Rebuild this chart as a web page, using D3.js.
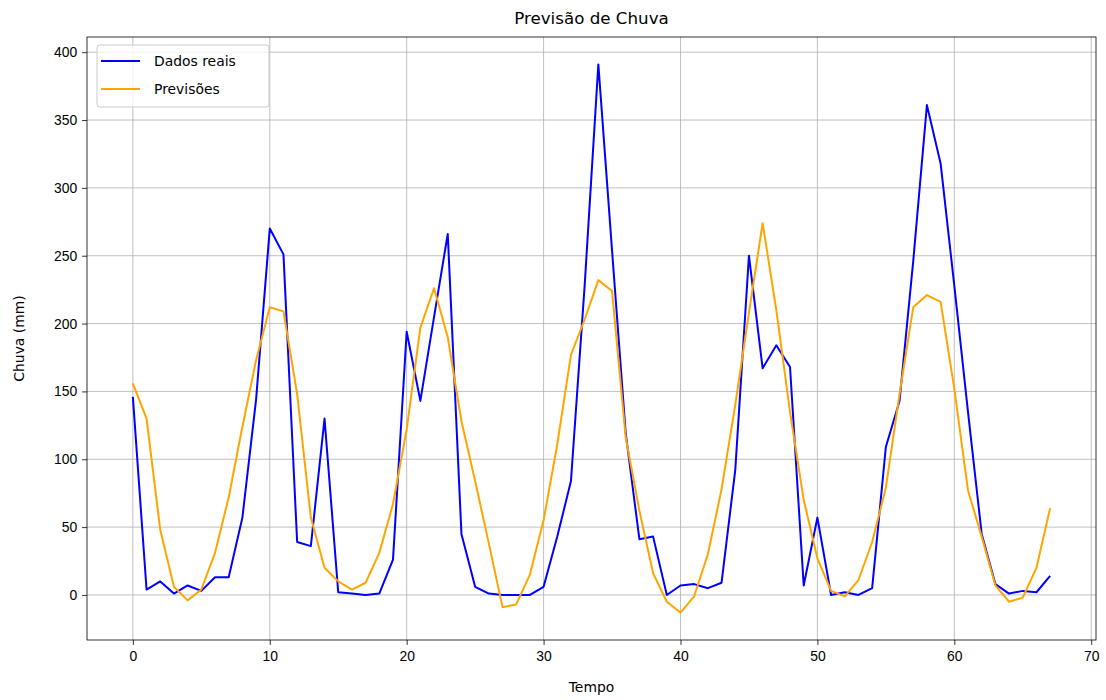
<!DOCTYPE html>
<html lang="pt">
<head>
<meta charset="UTF-8">
<title>Previsão de Chuva</title>
<script src="https://cdn.jsdelivr.net/npm/d3@7/dist/d3.min.js"></script>
<style>
  body { margin: 0; background: #fff; }
  svg { font-family: "DejaVu Sans", sans-serif; }
  .grid line { stroke: #b0b0b0; stroke-width: 0.8; }
  .axis text { font-size: 13.9px; fill: #000; }
  .axis path, .axis line { stroke: #000; stroke-width: 0.8; }
</style>
</head>
<body>
<svg width="1106" height="700"></svg>
<script>
  // valores (mm)
  const dadosReais = [146, 4, 10, 1, 7, 3, 13, 13, 57, 144,
    270, 251, 39, 36, 130, 2, 1, 0, 1, 26,
    194, 143, 205, 266, 45, 6, 1, 0, 0, 0,
    6, 43, 84, 228, 391, 254, 119, 41, 43, 0,
    7, 8, 5, 9, 92, 250, 167, 184, 168, 7,
    57, 0, 2, 0, 5, 109, 143, 246, 361, 318,
    228, 135, 45, 8, 1, 3, 2, 14];
  const previsoes = [156, 130, 48, 6, -4, 4, 31, 72, 124, 173,
    212, 209, 148, 57, 20, 10, 4, 9, 31, 67,
    122, 197, 226, 190, 128, 84, 38, -9, -7, 15,
    55, 111, 177, 203, 232, 224, 116, 62, 16, -5,
    -13, -1, 30, 78, 140, 208, 274, 210, 135, 70,
    27, 3, -1, 11, 39, 79, 148, 212, 221, 216,
    152, 77, 43, 7, -5, -2, 20, 64];
  const xTicks = [0, 10, 20, 30, 40, 50, 60, 70];
  const yTicks = [0, 50, 100, 150, 200, 250, 300, 350, 400];
  const series = [
    { nome: "Dados reais", valores: dadosReais, cor: "blue" },
    { nome: "Previsões", valores: previsoes, cor: "orange" }
  ];

  const margin = { top: 37, right: 10, bottom: 60, left: 87 };
  const width = 1096 - margin.left;
  const height = 640 - margin.top;

  const svg = d3.select("svg");
  const g = svg.append("g").attr("transform", `translate(${margin.left},${margin.top})`);

  // margens de 5% como no matplotlib
  const n = dadosReais.length - 1;
  const todos = dadosReais.concat(previsoes);
  const yMin = d3.min(todos), yMax = d3.max(todos);
  const x = d3.scaleLinear().domain([-0.05 * n, n * 1.05]).range([0, width]);
  const yPad = (yMax - yMin) * 0.05;
  const y = d3.scaleLinear().domain([yMin - yPad, yMax + yPad]).range([height, 0]);

  // grade
  g.append("g").attr("class", "grid")
    .selectAll("line.v").data(xTicks.filter(t => x(t) <= width)).join("line")
    .attr("x1", d => x(d)).attr("x2", d => x(d)).attr("y1", 0).attr("y2", height);
  g.append("g").attr("class", "grid")
    .selectAll("line.h").data(yTicks).join("line")
    .attr("x1", 0).attr("x2", width).attr("y1", d => y(d)).attr("y2", d => y(d));

  const line = d3.line().x((d, i) => x(i)).y(d => y(d));
  g.selectAll("path.serie").data(series).join("path")
    .attr("class", "serie")
    .attr("fill", "none")
    .attr("stroke", d => d.cor)
    .attr("stroke-width", 2)
    .attr("stroke-linejoin", "round")
    .attr("d", d => line(d.valores));

  // eixos
  g.append("g").attr("class", "axis")
    .attr("transform", `translate(0,${height})`)
    .call(d3.axisBottom(x).tickValues(xTicks).tickSize(4.9).tickPadding(6.5).tickFormat(d3.format("d")))
    .call(a => a.select(".domain").remove());
  g.append("g").attr("class", "axis")
    .call(d3.axisLeft(y).tickValues(yTicks).tickSize(4.9).tickPadding(4.9).tickFormat(d3.format("d")))
    .call(a => a.select(".domain").remove());

  // moldura
  g.append("rect").attr("width", width).attr("height", height)
    .attr("fill", "none").attr("stroke", "#000").attr("stroke-width", 0.8);

  // títulos
  svg.append("text").attr("x", margin.left + width / 2).attr("y", 24)
    .attr("text-anchor", "middle").attr("font-size", "16.7px").text("Previsão de Chuva");
  svg.append("text").attr("x", margin.left + width / 2).attr("y", 692)
    .attr("text-anchor", "middle").attr("font-size", "13.9px").text("Tempo");
  svg.append("text").attr("transform", `translate(24,${margin.top + height / 2}) rotate(-90)`)
    .attr("text-anchor", "middle").attr("font-size", "13.9px").text("Chuva (mm)");

  // legenda
  const leg = g.append("g").attr("transform", "translate(10,8)");
  leg.append("rect").attr("width", 172).attr("height", 62).attr("rx", 3)
    .attr("fill", "#fff").attr("fill-opacity", 0.8).attr("stroke", "#ccc").attr("stroke-width", 1);
  const item = leg.selectAll("g.item").data(series).join("g")
    .attr("class", "item")
    .attr("transform", (d, i) => `translate(0,${16 + i * 28})`);
  item.append("line").attr("x1", 4).attr("x2", 43).attr("stroke", d => d.cor).attr("stroke-width", 2);
  item.append("text").attr("x", 57).attr("dy", "0.35em").attr("font-size", "13.9px").text(d => d.nome);
</script>
</body>
</html>
